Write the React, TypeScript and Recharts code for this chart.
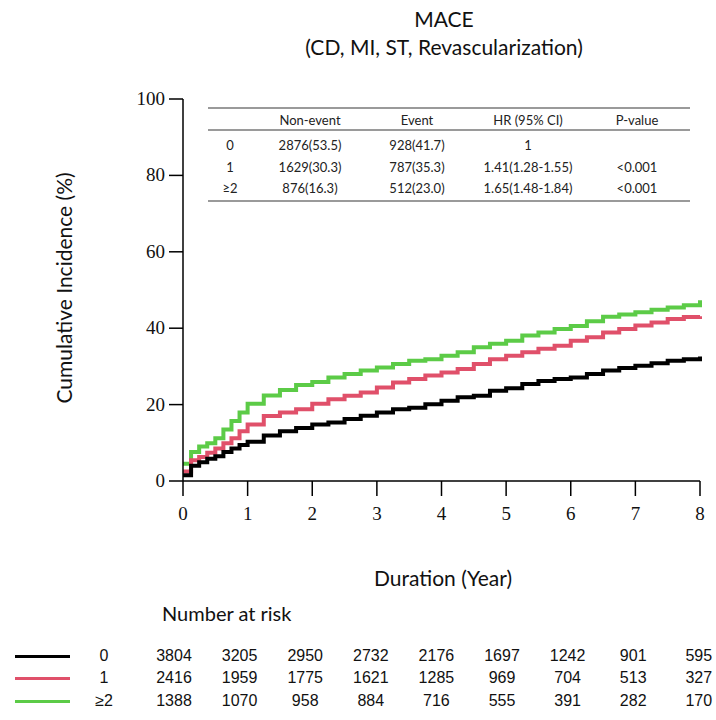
import { Line, LineChart, XAxis, YAxis } from 'recharts'

// follow-up time (years)
const years = [0, 0.125, 0.25, 0.375, 0.5, 0.625, 0.75, 0.875, 1, 1.25, 1.5, 1.75, 2, 2.25, 2.5, 2.75, 3, 3.25, 3.5, 3.75, 4, 4.25, 4.5, 4.75, 5, 5.25, 5.5, 5.75, 6, 6.25, 6.5, 6.75, 7, 7.25, 7.5, 7.75, 8]

// cumulative incidence (%)
const group0 = [1.5, 4.0, 4.9, 5.8, 6.5, 7.6, 8.5, 9.4, 10.3, 11.9, 13.0, 13.9, 14.8, 15.3, 16.2, 17.1, 17.9, 18.8, 19.2, 20.1, 21.0, 21.9, 22.3, 23.6, 24.3, 25.4, 26.2, 26.7, 27.1, 28.0, 28.9, 29.6, 30.2, 30.8, 31.5, 31.9, 32.6]
const group1 = [2.5, 5.4, 6.3, 7.4, 8.5, 9.9, 11.2, 13.0, 14.8, 17.0, 17.9, 18.8, 20.2, 21.4, 22.3, 23.2, 24.5, 25.8, 26.7, 27.6, 28.4, 29.3, 30.6, 31.9, 32.8, 33.7, 34.6, 35.4, 36.7, 37.6, 38.9, 39.8, 40.7, 41.5, 42.4, 42.9, 43.1]
const group2 = [4.5, 7.6, 9.0, 9.9, 11.2, 13.5, 15.7, 17.9, 20.2, 22.4, 23.8, 25.1, 25.9, 27.1, 28.0, 28.9, 29.7, 30.6, 31.5, 31.9, 32.8, 33.7, 35.0, 35.9, 36.7, 38.1, 38.9, 39.8, 40.6, 41.8, 43.0, 43.6, 44.2, 44.8, 45.4, 46.0, 47.3]

const xTicks = [0, 1, 2, 3, 4, 5, 6, 7, 8]
const yTicks = [0, 20, 40, 60, 80, 100]

const groupLabels = ['0', '1', '≥2']
const groupColors = ['#000000', '#e0506a', '#5ccb47']

// number at risk
const atRisk0 = [3804, 3205, 2950, 2732, 2176, 1697, 1242, 901, 595]
const atRisk1 = [2416, 1959, 1775, 1621, 1285, 969, 704, 513, 327]
const atRisk2 = [1388, 1070, 958, 884, 716, 555, 391, 282, 170]

// inset table
const tableHeader = ['', 'Non-event', 'Event', 'HR (95% CI)', 'P-value']
const tableRow0 = ['0', '2876(53.5)', '928(41.7)', '1', '']
const tableRow1 = ['1', '1629(30.3)', '787(35.3)', '1.41(1.28-1.55)', '<0.001']
const tableRow2 = ['≥2', '876(16.3)', '512(23.0)', '1.65(1.48-1.84)', '<0.001']

const data = years.map((year, i) => ({
  year,
  g0: group0[i],
  g1: group1[i],
  g2: group2[i]
}))

const sans = 'Lato, "Open Sans", sans-serif'
const serif = '"Liberation Serif", "DejaVu Serif", serif'
const tableCols = [230, 310, 417, 528, 637]
const tableRowsY = [120, 145, 167, 188]
const riskCols = atRisk0.map((_, i) => 174 + i * 65.6)
const riskRowsY = [656, 678, 701]

const abs = (x: number, y: number, extra: React.CSSProperties = {}): React.CSSProperties => ({
  position: 'absolute',
  left: x,
  top: y,
  transform: 'translate(-50%, -50%)',
  whiteSpace: 'nowrap',
  ...extra
})

const XTick = (props: any) => {
  const { x, y, payload } = props
  return (
    <text x={x} y={y + 14} textAnchor="middle" fontFamily={serif} fontSize={19} fill="#111">
      {payload.value}
    </text>
  )
}

const YTick = (props: any) => {
  const { x, y, payload } = props
  return (
    <text x={x - 2} y={y + 6} textAnchor="end" fontFamily={serif} fontSize={19} fill="#111">
      {payload.value}
    </text>
  )
}

export default function App() {
  const tableRows = [tableHeader, tableRow0, tableRow1, tableRow2]
  const riskRows = [atRisk0, atRisk1, atRisk2]

  return (
    <div style={{ position: 'absolute', left: 0, top: 0, width: 716, height: 720, background: '#fff', fontFamily: sans, color: '#111' }}>
      <div style={abs(444, 18, { fontSize: 21 })}>MACE</div>
      <div style={abs(444, 46, { fontSize: 21 })}>(CD, MI, ST, Revascularization)</div>

      <div style={abs(63, 288, { fontSize: 21, transform: 'translate(-50%, -50%) rotate(-90deg)' })}>Cumulative Incidence (%)</div>

      <div style={{ position: 'absolute', left: 0, top: 0 }}>
        <LineChart width={716} height={600} data={data} margin={{ top: 99, right: 16, left: 123, bottom: 79 }}>
          <XAxis
            dataKey="year"
            type="number"
            domain={[0, 8]}
            ticks={xTicks}
            tickSize={15}
            tickMargin={10}
            height={40}
            axisLine={{ stroke: '#000', strokeWidth: 1.5 }}
            tickLine={{ stroke: '#000', strokeWidth: 1.5 }}
            tick={<XTick />}
          />
          <YAxis
            type="number"
            domain={[0, 100]}
            ticks={yTicks}
            width={60}
            tickSize={14}
            axisLine={{ stroke: '#000', strokeWidth: 1.5 }}
            tickLine={{ stroke: '#000', strokeWidth: 1.5 }}
            tick={<YTick />}
          />
          <Line type="stepAfter" dataKey="g2" stroke={groupColors[2]} strokeWidth={4} dot={false} isAnimationActive={false} />
          <Line type="stepAfter" dataKey="g1" stroke={groupColors[1]} strokeWidth={4} dot={false} isAnimationActive={false} />
          <Line type="stepAfter" dataKey="g0" stroke={groupColors[0]} strokeWidth={4} dot={false} isAnimationActive={false} />
        </LineChart>
      </div>

      {/* inset table */}
      {[108, 130, 201].map((y) => (
        <div key={y} style={{ position: 'absolute', left: 208, top: y - 1, width: 482, height: 1.5, background: '#9a9a9a' }} />
      ))}
      {tableRows.map((row, r) =>
        row.map((cell, c) => (
          <div key={`${r}-${c}`} style={abs(tableCols[c], tableRowsY[r], { fontSize: 13, color: '#222' })}>{cell}</div>
        ))
      )}

      <div style={abs(443, 577, { fontSize: 21 })}>Duration (Year)</div>

      <div style={{ position: 'absolute', left: 162, top: 613, transform: 'translateY(-50%)', fontSize: 20 }}>Number at risk</div>

      {riskRows.map((row, r) => (
        <div key={r}>
          <div style={{ position: 'absolute', left: 15, top: riskRowsY[r] - 1.5, width: 55, height: 3, background: groupColors[r] }} />
          <div style={abs(104, riskRowsY[r], { fontSize: 16, fontFamily: '"Liberation Sans", Arial, sans-serif' })}>{groupLabels[r]}</div>
          {row.map((v, i) => (
            <div key={i} style={abs(riskCols[i], riskRowsY[r], { fontSize: 16, fontFamily: '"Liberation Sans", Arial, sans-serif' })}>{v}</div>
          ))}
        </div>
      ))}
    </div>
  )
}
